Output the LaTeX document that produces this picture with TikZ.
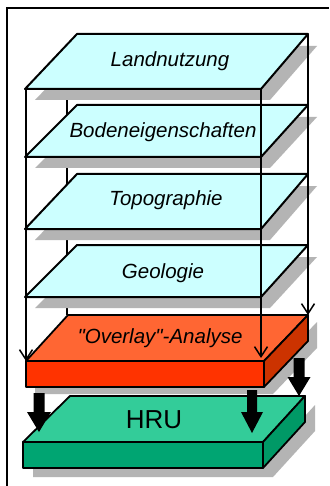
\documentclass[tikz,border=0pt]{standalone}
\usepackage{fontspec}
\setmainfont{Liberation Sans}
\usetikzlibrary{arrows.meta}
\definecolor{planecol}{HTML}{CCFFFF}
\definecolor{shadowcol}{HTML}{B4B4B4}
\definecolor{ovtop}{HTML}{FF6633}
\definecolor{ovfront}{HTML}{FF3300}
\definecolor{ovside}{HTML}{CC3300}
\definecolor{hrutop}{HTML}{33CC99}
\definecolor{hrufront}{HTML}{00A572}
\definecolor{hruside}{HTML}{009966}
\newcommand\drawlayer[3]{% #1 name, #2 back y, #3 front y
  \fill[shade] (35,{#3+11}) -- (270,{#3+11}) -- (317,{#2+12}) -- (87,{#2+12}) -- cycle;
  \coordinate (#1fl) at (25,#3);
  \coordinate (#1fr) at (261,#3);
  \coordinate (#1br) at (308,#2);
  \coordinate (#1bl) at (77,#2);
  \path[planeface] (#1fl) -- (#1fr) -- (#1br) -- (#1bl) -- cycle;
}
\begin{document}
\begin{tikzpicture}[x=1pt,y=-1pt,
  planeface/.style={fill=planecol, draw=black, line width=2pt, line join=round},
  shade/.style={fill=shadowcol, draw=none},
  face/.style={draw=black, line width=1.8pt, line join=round},
  guide/.style={draw=black, line width=1.4pt},
  guidearrow/.style={guide, -{Straight Barb[length=10pt,width=13pt,line width=1.5pt]}},
  blockarrow/.style={fill=black, draw=none},
  lbl/.style={font=\fontsize{20.5}{24}\selectfont\itshape, anchor=base, inner sep=0pt},
  bigl/.style={font=\fontsize{26}{30}\selectfont, anchor=base, inner sep=0pt},
]
\useasboundingbox (0,0) rectangle (329,486);
\fill[white] (0,0) rectangle (329,486);
% frame
\coordinate (frbl) at (7,486);
\coordinate (frtl) at (7,8);
\coordinate (frtr) at (329,8);
\draw[line width=1.6pt] (frbl) -- (frtl) -- (frtr);
% hidden back-left line
\coordinate (backtop) at (67,45);
\coordinate (backbot) at (67,315);
\draw[guide] (backtop) -- (backbot);
% layers
\drawlayer{pa}{34}{89}
\drawlayer{pb}{105}{157}
\drawlayer{pc}{174}{229}
\drawlayer{pd}{245}{297}
% HRU box
\fill[shade] (33,451) -- (273,451) -- (315,405) -- (315,431) -- (273,477) -- (33,477) -- cycle;
\coordinate (hfl) at (23,442);
\coordinate (hfr) at (263,442);
\coordinate (hbr) at (305,396);
\coordinate (hbl) at (70,396);
\coordinate (hflb) at (23,468);
\coordinate (hfrb) at (263,468);
\coordinate (hbrb) at (305,422);
\path[face, fill=hrutop] (hfl) -- (hfr) -- (hbr) -- (hbl) -- cycle;
\path[face, fill=hrufront] (hfl) -- (hfr) -- (hfrb) -- (hflb) -- cycle;
\path[face, fill=hruside] (hfr) -- (hbr) -- (hbrb) -- (hfrb) -- cycle;
% Overlay box
\fill[shade] (35,368) -- (273,368) -- (317,322) -- (317,348) -- (273,394) -- (35,394) -- cycle;
\coordinate (ofl) at (26,361);
\coordinate (ofr) at (264,361);
\coordinate (obr) at (308,315);
\coordinate (obl) at (68,315);
\coordinate (oflb) at (26,387);
\coordinate (ofrb) at (264,387);
\coordinate (obrb) at (308,341);
\path[face, fill=ovtop] (ofl) -- (ofr) -- (obr) -- (obl) -- cycle;
\path[face, fill=ovfront] (ofl) -- (ofr) -- (ofrb) -- (oflb) -- cycle;
\path[face, fill=ovside] (ofr) -- (obr) -- (obrb) -- (ofrb) -- cycle;
% guide lines with arrows
\coordinate (lt) at (26,89);
\coordinate (ltip) at (26,361);
\coordinate (mt) at (261,89);
\coordinate (mtip) at (261,358);
\coordinate (rt) at (308,34);
\coordinate (rtip) at (308,315);
\draw[guidearrow] (lt) -- (ltip);
\draw[guidearrow] (mt) -- (mtip);
\draw[guidearrow] (rt) -- (rtip);
% block arrows
\fill[blockarrow] (33.5,393) -- (44.5,393) -- (44.5,412) -- (51,412) -- (39,432) -- (27,412) -- (33.5,412) -- cycle;
\fill[blockarrow] (247,390) -- (257,390) -- (257,412) -- (263,412) -- (252,433) -- (241,412) -- (247,412) -- cycle;
\fill[blockarrow] (293.5,358) -- (304.5,358) -- (304.5,377) -- (310.5,377) -- (299,396) -- (287.5,377) -- (293.5,377) -- cycle;
% labels
\node[lbl] (tland) at (170,67) {Landnutzung};
\node[lbl] (tboden) at (163,138) {Bodeneigenschaften};
\node[lbl] (ttopo) at (166,205) {Topographie};
\node[lbl] (tgeo) at (163,278) {Geologie};
\node[lbl] (tover) at (160,343) {\textquotedbl Overlay\textquotedbl -Analyse};
\node[bigl] (thru) at (154,428) {HRU};
\end{tikzpicture}
\end{document}
